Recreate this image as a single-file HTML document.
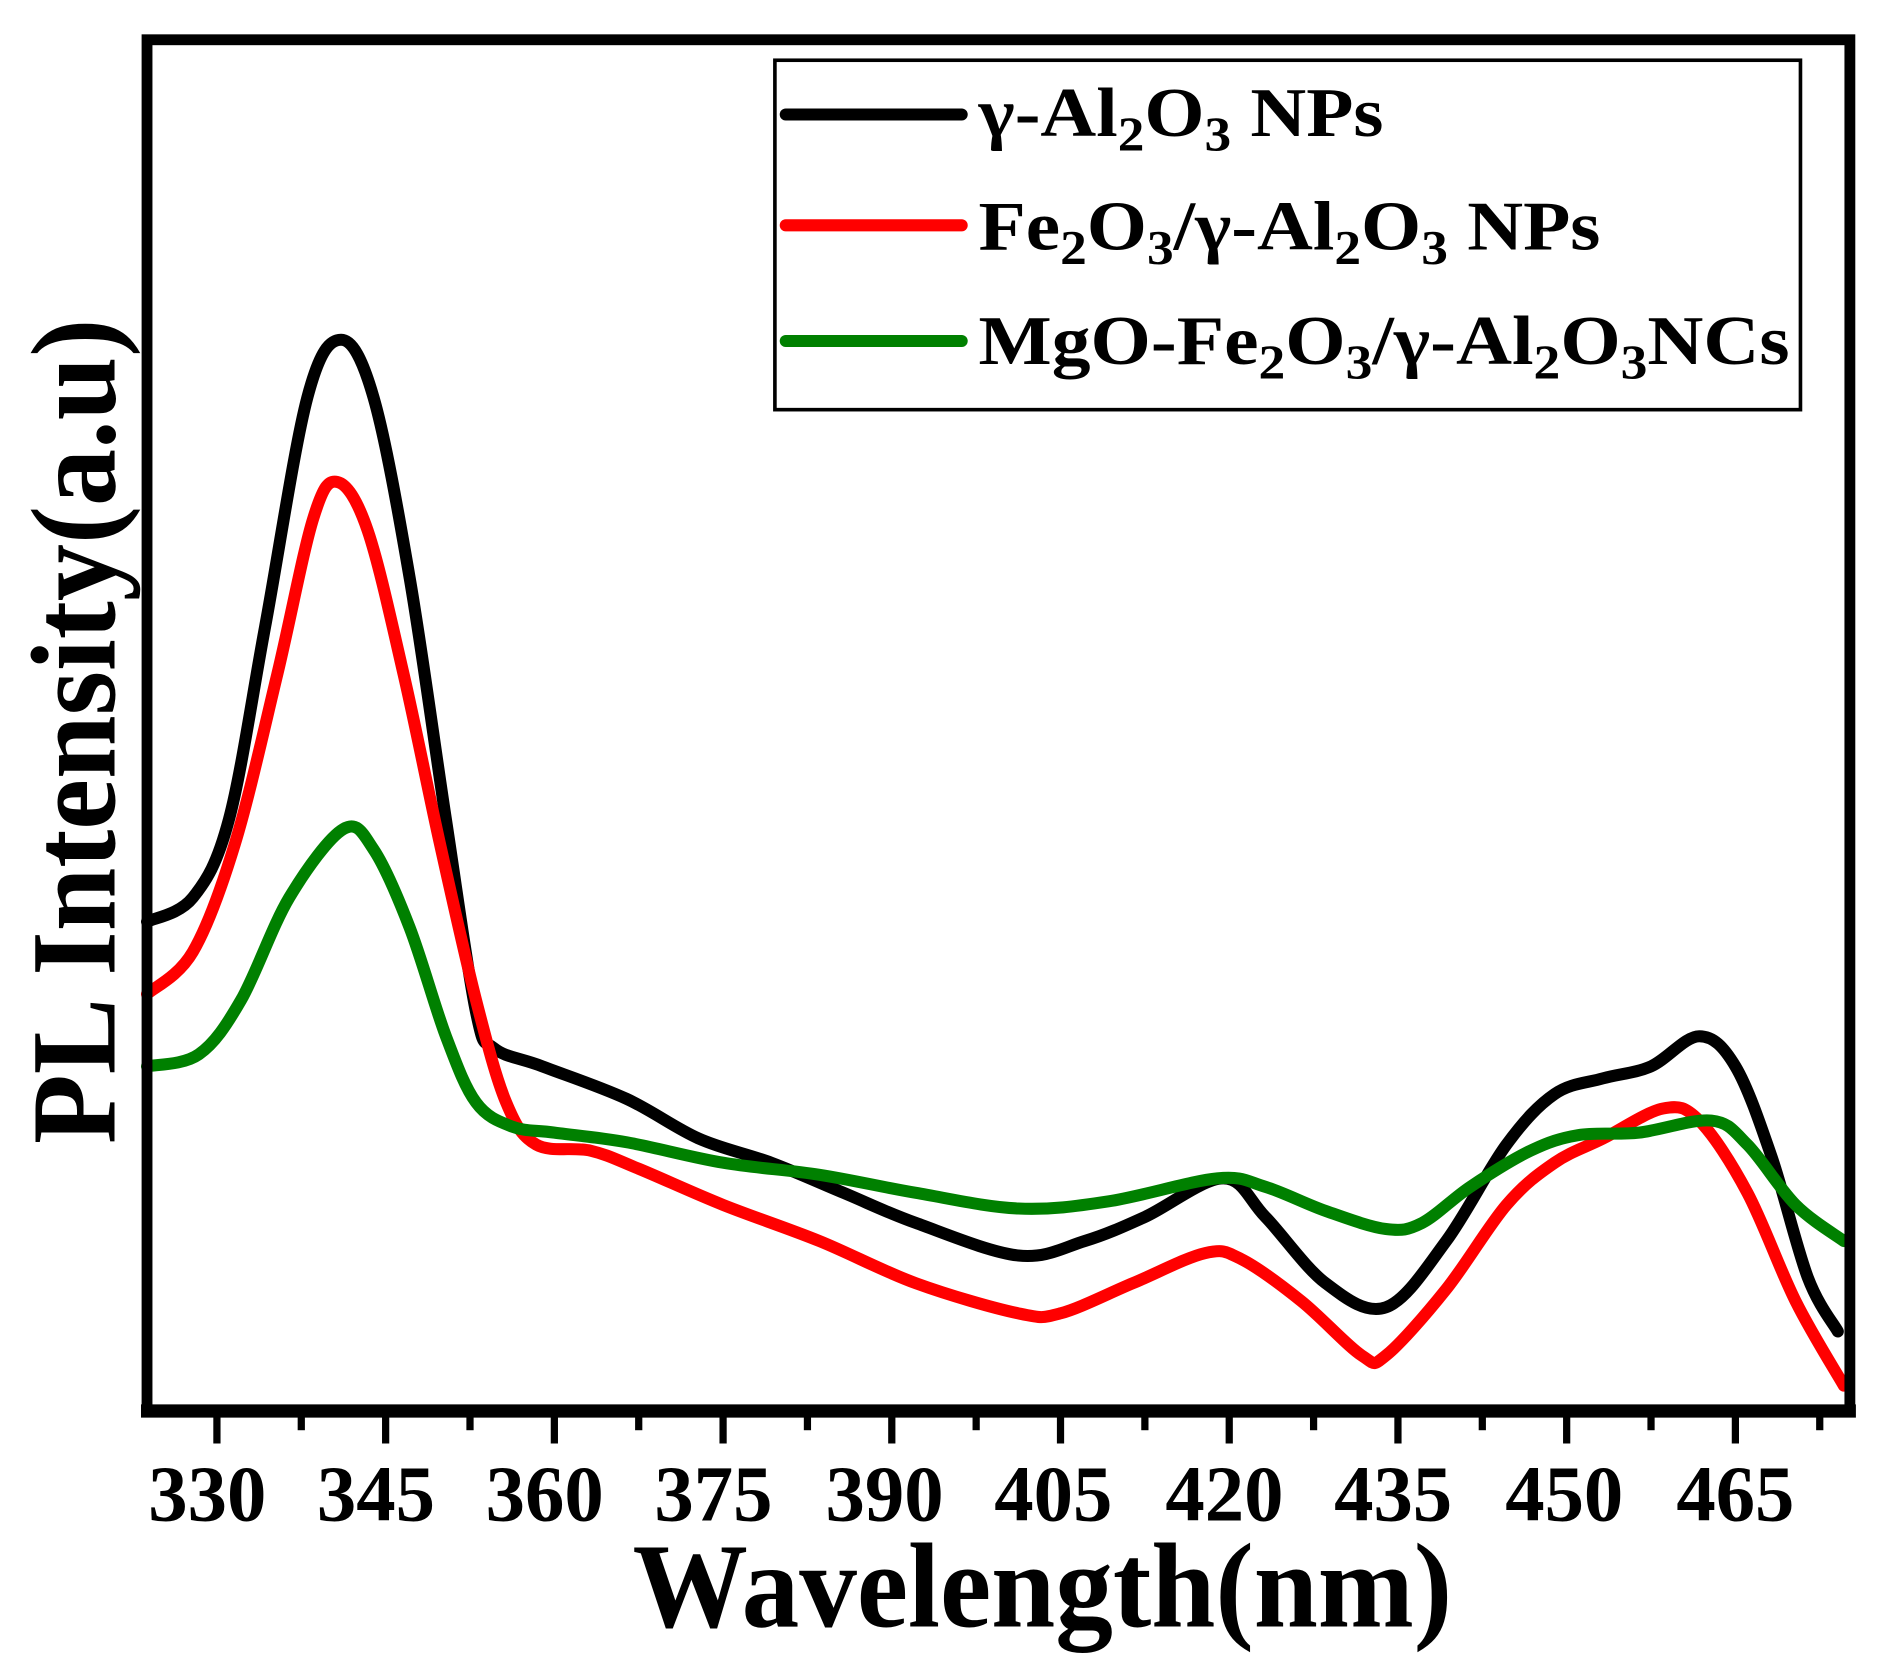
<!DOCTYPE html>
<html><head><meta charset="utf-8"><style>html,body{margin:0;padding:0;background:#fff}svg{display:block}text{font-family:"Liberation Serif","Times New Roman",serif;font-weight:bold}</style></head>
<body>
<svg id="s" width="1880" height="1670" viewBox="0 0 1560 1386" preserveAspectRatio="none" xmlns="http://www.w3.org/2000/svg">
<rect width="1560" height="1386" fill="#fff"/>
<g fill="none" stroke-width="10" stroke-linejoin="round" stroke-linecap="round">
<path id="pk" stroke="#000" data-p="122,765 160,745 190,680 220,520 255,330 283,282 310,330 340,480 370,680 395,840 410,870 450,885 520,912 580,945 640,965 700,990 760,1015 845,1042 900,1030 950,1010 1015,978 1050,1010 1100,1065 1150,1085 1200,1030 1250,950 1290,908 1330,895 1370,885 1410,860 1440,885 1470,960 1500,1060 1525,1105"/>
<path id="pr" stroke="#ff0000" data-p="122,825 160,790 195,700 230,560 260,430 280,400 305,440 335,560 365,700 395,830 420,915 445,950 490,955 530,970 600,1000 680,1030 760,1065 845,1090 880,1090 940,1065 1000,1040 1030,1045 1080,1080 1130,1125 1150,1125 1200,1070 1250,1000 1290,965 1330,945 1380,920 1410,930 1450,990 1490,1080 1530,1150"/>
<path id="pg" stroke="#008000" data-p="122,885 165,875 200,830 240,745 285,688 310,705 340,770 370,860 395,915 425,935 460,940 520,948 600,965 680,975 760,990 845,1003 920,997 1010,978 1050,985 1100,1005 1150,1020 1180,1015 1220,985 1270,955 1310,942 1360,940 1420,930 1450,950 1490,1000 1530,1030"/>
</g>
<rect x="122" y="33" width="1413" height="1138" fill="none" stroke="#000" stroke-width="9"/>
<line x1="117" y1="1171" x2="1540" y2="1171" stroke="#000" stroke-width="11"/>
<g stroke="#000" stroke-width="6">
<line x1="180" y1="1171" x2="180" y2="1198"/><line x1="320" y1="1171" x2="320" y2="1198"/><line x1="460" y1="1171" x2="460" y2="1198"/><line x1="600" y1="1171" x2="600" y2="1198"/><line x1="740" y1="1171" x2="740" y2="1198"/><line x1="880" y1="1171" x2="880" y2="1198"/><line x1="1020" y1="1171" x2="1020" y2="1198"/><line x1="1160" y1="1171" x2="1160" y2="1198"/><line x1="1300" y1="1171" x2="1300" y2="1198"/><line x1="1440" y1="1171" x2="1440" y2="1198"/>
<line x1="250" y1="1171" x2="250" y2="1187"/><line x1="390" y1="1171" x2="390" y2="1187"/><line x1="530" y1="1171" x2="530" y2="1187"/><line x1="670" y1="1171" x2="670" y2="1187"/><line x1="810" y1="1171" x2="810" y2="1187"/><line x1="950" y1="1171" x2="950" y2="1187"/><line x1="1090" y1="1171" x2="1090" y2="1187"/><line x1="1230" y1="1171" x2="1230" y2="1187"/><line x1="1370" y1="1171" x2="1370" y2="1187"/><line x1="1510" y1="1171" x2="1510" y2="1187"/>
</g>
<g font-size="66" text-anchor="middle">
<text x="172" y="1262" textLength="98" lengthAdjust="spacingAndGlyphs">330</text>
<text x="312" y="1262" textLength="98" lengthAdjust="spacingAndGlyphs">345</text>
<text x="452" y="1262" textLength="98" lengthAdjust="spacingAndGlyphs">360</text>
<text x="592" y="1262" textLength="98" lengthAdjust="spacingAndGlyphs">375</text>
<text x="734" y="1262" textLength="98" lengthAdjust="spacingAndGlyphs">390</text>
<text x="874" y="1262" textLength="98" lengthAdjust="spacingAndGlyphs">405</text>
<text x="1016" y="1262" textLength="98" lengthAdjust="spacingAndGlyphs">420</text>
<text x="1156" y="1262" textLength="98" lengthAdjust="spacingAndGlyphs">435</text>
<text x="1298" y="1262" textLength="98" lengthAdjust="spacingAndGlyphs">450</text>
<text x="1440" y="1262" textLength="98" lengthAdjust="spacingAndGlyphs">465</text>
</g>
<text x="525" y="1350" font-size="100" textLength="680" lengthAdjust="spacingAndGlyphs">Wavelength(nm)</text>
<text transform="translate(95,607) rotate(-90)" font-size="100" text-anchor="middle" textLength="685" lengthAdjust="spacingAndGlyphs">PL Intensity(a.u)</text>
<rect x="643" y="50" width="851" height="290" fill="#fff" stroke="#000" stroke-width="3"/>
<g stroke-width="10" stroke-linecap="round">
<line x1="652" y1="95" x2="798" y2="95" stroke="#000"/>
<line x1="652" y1="187" x2="798" y2="187" stroke="#ff0000"/>
<line x1="652" y1="283" x2="798" y2="283" stroke="#008000"/>
</g>
<g font-size="58">
<text x="812" y="113" textLength="336" lengthAdjust="spacingAndGlyphs">γ-Al<tspan font-size="40" dy="12">2</tspan><tspan dy="-12">O</tspan><tspan font-size="40" dy="12">3</tspan><tspan dy="-12"> NPs</tspan></text>
<text x="812" y="207" textLength="516" lengthAdjust="spacingAndGlyphs">Fe<tspan font-size="40" dy="12">2</tspan><tspan dy="-12">O</tspan><tspan font-size="40" dy="12">3</tspan><tspan dy="-12">/γ-Al</tspan><tspan font-size="40" dy="12">2</tspan><tspan dy="-12">O</tspan><tspan font-size="40" dy="12">3</tspan><tspan dy="-12"> NPs</tspan></text>
<text x="812" y="302" textLength="673" lengthAdjust="spacingAndGlyphs">MgO-Fe<tspan font-size="40" dy="12">2</tspan><tspan dy="-12">O</tspan><tspan font-size="40" dy="12">3</tspan><tspan dy="-12">/γ-Al</tspan><tspan font-size="40" dy="12">2</tspan><tspan dy="-12">O</tspan><tspan font-size="40" dy="12">3</tspan><tspan dy="-12">NCs</tspan></text>
</g>
</svg>
<script>
['pk','pr','pg'].forEach(function(id){
 var el=document.getElementById(id);
 var p=el.getAttribute('data-p').trim().split(/\s+/).map(function(s){return s.split(',').map(Number);});
 var d='M'+p[0][0]+','+p[0][1];
 for(var i=0;i<p.length-1;i++){
  var p0=p[i-1]||p[i],p1=p[i],p2=p[i+1],p3=p[i+2]||p2;
  var c1=[p1[0]+(p2[0]-p0[0])/6,p1[1]+(p2[1]-p0[1])/6];
  var c2=[p2[0]-(p3[0]-p1[0])/6,p2[1]-(p3[1]-p1[1])/6];
  d+=' C'+c1[0]+','+c1[1]+' '+c2[0]+','+c2[1]+' '+p2[0]+','+p2[1];
 }
 el.setAttribute('d',d);
});
</script>
</body></html>
